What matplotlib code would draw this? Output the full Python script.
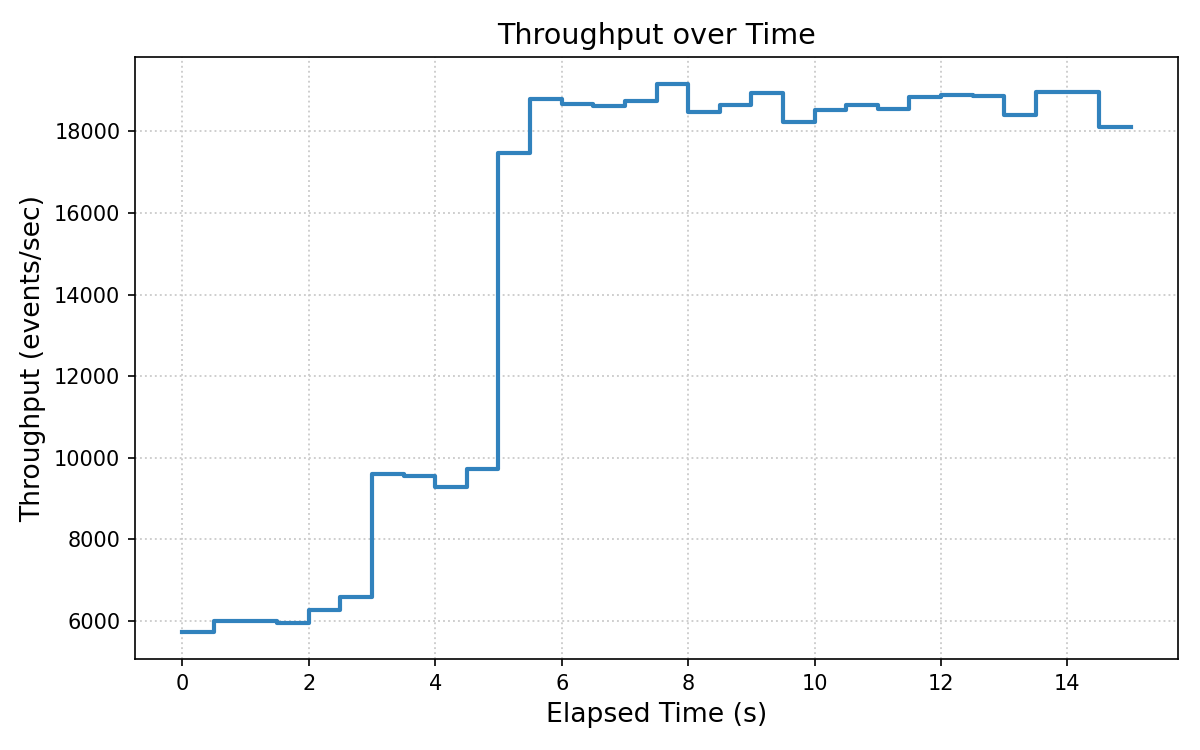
import numpy as np
import matplotlib
matplotlib.use("Agg")
import matplotlib.pyplot as plt

# Throughput per 0.5 s bucket (events/sec)
elapsed = np.arange(0, 15.5, 0.5)
throughput = [5738, 6005, 6005, 5943, 6262, 6596, 9592, 9543, 9290, 9731,
              17470, 18793, 18678, 18621, 18735, 19151, 18465, 18646, 18940, 18229,
              18515, 18646, 18556, 18833, 18891, 18866, 18400, 18956, 18956, 18098,
              18098]

fig, ax = plt.subplots(figsize=(8, 5), dpi=150)
ax.step(elapsed, throughput, where='post', color='#3182bd', linewidth=2)
ax.set_title('Throughput over Time', fontsize=13.75)
ax.set_xlabel('Elapsed Time (s)', fontsize=12.75)
ax.set_ylabel('Throughput (events/sec)', fontsize=12.75)
ax.grid(True, linestyle=':', color='#cccccc', linewidth=0.9)
fig.subplots_adjust(left=0.1125, right=0.9817, top=0.924, bottom=0.1213)
fig.savefig('out.png')
